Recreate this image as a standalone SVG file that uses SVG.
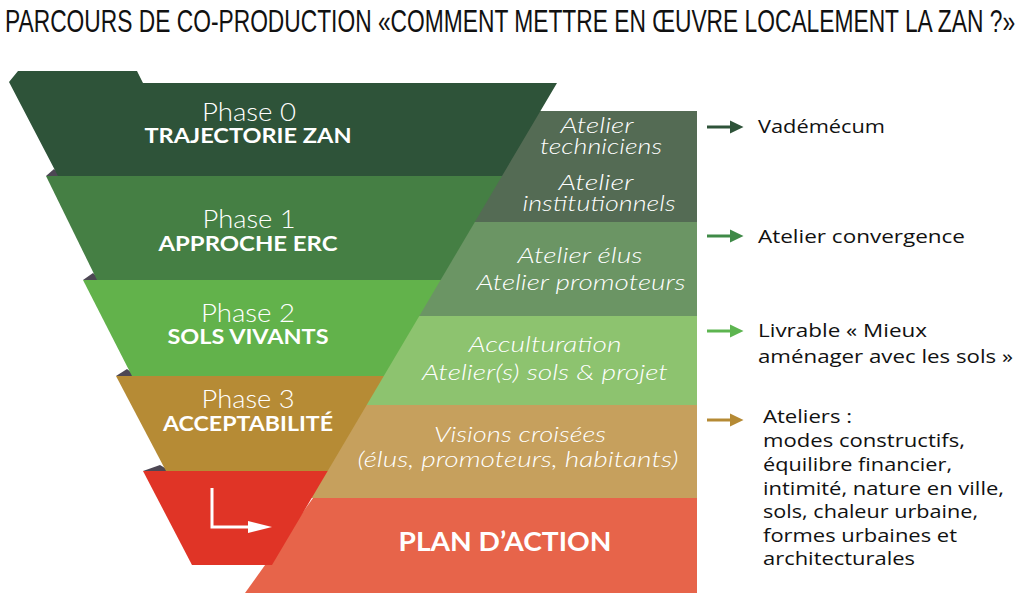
<svg xmlns="http://www.w3.org/2000/svg" width="1024" height="593" viewBox="0 0 1024 593">
<defs>
<style>
.title{font-family:"Liberation Sans",Arial,sans-serif;font-size:31px;fill:#111}
.ph{font-family:Lato,"Open Sans",sans-serif;font-weight:300;font-size:25px;fill:#fff;text-anchor:middle}
.phb{font-family:Lato,"Open Sans",sans-serif;font-weight:700;font-size:20px;fill:#fff;text-anchor:middle}
.at{font-family:Lato,"Open Sans",sans-serif;font-weight:300;font-style:italic;font-size:22px;fill:#fff;text-anchor:middle}
.out{font-family:"Open Sans",Lato,sans-serif;font-size:19px;fill:#111}
.tri{fill:#4d4754}
</style>
<marker id="m0" markerWidth="6" markerHeight="6" refX="1" refY="3" orient="auto" markerUnits="strokeWidth"><path d="M0,0.8 L4.5,3 L0,5.2 Z" fill="#2e5339"/></marker>
<marker id="m1" markerWidth="6" markerHeight="6" refX="1" refY="3" orient="auto" markerUnits="strokeWidth"><path d="M0,0.8 L4.5,3 L0,5.2 Z" fill="#3f8a47"/></marker>
<marker id="m2" markerWidth="6" markerHeight="6" refX="1" refY="3" orient="auto" markerUnits="strokeWidth"><path d="M0,0.8 L4.5,3 L0,5.2 Z" fill="#5db550"/></marker>
<marker id="m3" markerWidth="6" markerHeight="6" refX="1" refY="3" orient="auto" markerUnits="strokeWidth"><path d="M0,0.8 L4.5,3 L0,5.2 Z" fill="#b58a34"/></marker>
</defs>
<rect width="1024" height="593" fill="#fff"/>
<text class="title" transform="translate(5,32) scale(0.74,1)" x="0" y="0" textLength="1365" lengthAdjust="spacingAndGlyphs">PARCOURS DE CO-PRODUCTION «COMMENT METTRE EN ŒUVRE LOCALEMENT LA ZAN ?»</text>

<g id="right-bands">
<g id="atelier-tech"><polygon points="420,111 697,111 697,222 420,222" fill="#546b54"/>
<text class="at" x="597" y="133" textLength="73" lengthAdjust="spacingAndGlyphs">Atelier</text><text class="at" x="601" y="154" textLength="122" lengthAdjust="spacingAndGlyphs">techniciens</text>
<text class="at" x="596" y="190" textLength="75" lengthAdjust="spacingAndGlyphs">Atelier</text><text class="at" x="599" y="211" textLength="153" lengthAdjust="spacingAndGlyphs">institutionnels</text></g>
<g id="atelier-elus"><polygon points="380,222 697,222 697,316 380,316" fill="#6b9564"/>
<text class="at" x="580" y="263" textLength="125" lengthAdjust="spacingAndGlyphs">Atelier élus</text><text class="at" x="581" y="290" textLength="209" lengthAdjust="spacingAndGlyphs">Atelier promoteurs</text></g>
<g id="acculturation"><polygon points="330,316 697,316 697,405 330,405" fill="#8dc36f"/>
<text class="at" x="545" y="352" textLength="153" lengthAdjust="spacingAndGlyphs">Acculturation</text><text class="at" x="545" y="380" textLength="246" lengthAdjust="spacingAndGlyphs">Atelier(s) sols &amp; projet</text></g>
<g id="visions"><polygon points="280,405 697,405 697,498 280,498" fill="#c6a05d"/>
<text class="at" x="520" y="442" textLength="172" lengthAdjust="spacingAndGlyphs">Visions croisées</text><text class="at" x="518" y="467" textLength="321" lengthAdjust="spacingAndGlyphs">(élus, promoteurs, habitants)</text></g>
<g id="plan-action"><polygon points="313,498 697,498 697,593 245,593" fill="#e7644a"/>
<text class="phb" x="505" y="551" style="font-size:27px" textLength="213" lengthAdjust="spacingAndGlyphs">PLAN D’ACTION</text></g>
</g>

<polygon class="tri" points="46,176 54,169 62,176"/>
<polygon class="tri" points="83,280 93,273 101,280"/>
<polygon class="tri" points="116,376 127,369 136,376"/>
<polygon class="tri" points="143,471 160,465 170,471"/>

<g id="phase0"><polygon points="18,71 137,71 143,83 557,83 502,176 58,176 9,82" fill="#2e5339"/>
<text class="ph" x="249" y="121" textLength="94" lengthAdjust="spacingAndGlyphs">Phase 0</text><text class="phb" x="248" y="143" textLength="207" lengthAdjust="spacingAndGlyphs">TRAJECTORIE ZAN</text></g>
<g id="phase1"><polygon points="46,176 502,176 440.6,280 97,280" fill="#457f44"/>
<text class="ph" x="249" y="228" textLength="93" lengthAdjust="spacingAndGlyphs">Phase 1</text><text class="phb" x="248" y="251" textLength="179" lengthAdjust="spacingAndGlyphs">APPROCHE ERC</text></g>
<g id="phase2"><polygon points="83,280 440.6,280 383.8,376 132,376" fill="#62b24b"/>
<text class="ph" x="248" y="322" textLength="94" lengthAdjust="spacingAndGlyphs">Phase 2</text><text class="phb" x="248" y="344" textLength="161" lengthAdjust="spacingAndGlyphs">SOLS VIVANTS</text></g>
<g id="phase3"><polygon points="116,376 383.8,376 327.7,471 166,471" fill="#b68b35"/>
<text class="ph" x="248" y="408" textLength="93" lengthAdjust="spacingAndGlyphs">Phase 3</text><text class="phb" x="248" y="431" textLength="170" lengthAdjust="spacingAndGlyphs">ACCEPTABILITÉ</text></g>
<g id="phase4"><polygon points="143,471 327.7,471 272,565 192,565" fill="#e03426"/>
<polyline points="212,488 212,527 250,527" fill="none" stroke="#fff" stroke-width="3"/>
<polygon points="248,521 272,527 248,533" fill="#fff"/></g>

<g id="connectors">
<line x1="707" y1="127" x2="733" y2="127" stroke="#2e5339" stroke-width="3" marker-end="url(#m0)"/>
<line x1="707" y1="236" x2="733" y2="236" stroke="#3f8a47" stroke-width="3" marker-end="url(#m1)"/>
<line x1="707" y1="331" x2="733" y2="331" stroke="#5db550" stroke-width="3" marker-end="url(#m2)"/>
<line x1="707" y1="420" x2="733" y2="420" stroke="#b58a34" stroke-width="3" marker-end="url(#m3)"/>
</g>

<g id="out-vademecum"><text class="out" x="758" y="133" textLength="127" lengthAdjust="spacingAndGlyphs">Vadémécum</text></g>
<g id="out-convergence"><text class="out" x="758" y="243" textLength="207" lengthAdjust="spacingAndGlyphs">Atelier convergence</text></g>
<g id="out-livrable"><text class="out" x="758" y="337" textLength="169" lengthAdjust="spacingAndGlyphs">Livrable « Mieux</text><text class="out" x="758" y="363" textLength="255" lengthAdjust="spacingAndGlyphs">aménager avec les sols »</text></g>
<g id="out-ateliers"><text class="out" x="763" y="423" textLength="89" lengthAdjust="spacingAndGlyphs">Ateliers :</text>
<text class="out" x="763" y="447" textLength="202" lengthAdjust="spacingAndGlyphs">modes constructifs,</text>
<text class="out" x="763" y="471" textLength="189" lengthAdjust="spacingAndGlyphs">équilibre financier,</text>
<text class="out" x="763" y="495" textLength="241" lengthAdjust="spacingAndGlyphs">intimité, nature en ville,</text>
<text class="out" x="763" y="518" textLength="215" lengthAdjust="spacingAndGlyphs">sols, chaleur urbaine,</text>
<text class="out" x="763" y="542" textLength="194" lengthAdjust="spacingAndGlyphs">formes urbaines et</text>
<text class="out" x="763" y="565" textLength="152" lengthAdjust="spacingAndGlyphs">architecturales</text></g>
</svg>
